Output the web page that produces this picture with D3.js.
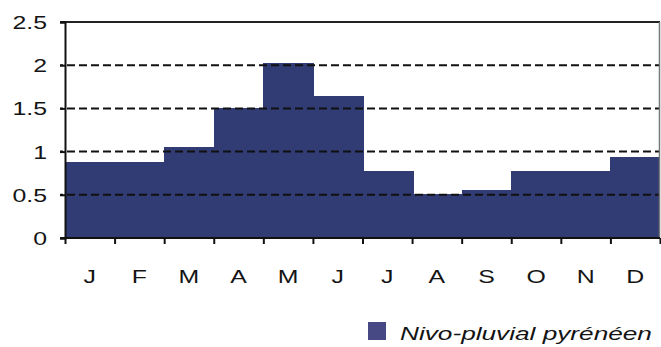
<!DOCTYPE html>
<html>
<head>
<meta charset="utf-8">
<script src="https://cdn.jsdelivr.net/npm/d3@7"></script>
<style>
  html, body { margin: 0; padding: 0; background: #fff; }
  svg { display: block; }
  text { font-family: "Liberation Sans", Arial, sans-serif; fill: #141414; }
</style>
</head>
<body>
<svg id="chart" width="661" height="347"></svg>
<script>
// Monthly flow coefficients, nivo-pluvial Pyrenean regime
const months = ["J", "F", "M", "A", "M", "J", "J", "A", "S", "O", "N", "D"];
const coefficients = [0.88, 0.88, 1.05, 1.5, 2.03, 1.64, 0.78, 0.51, 0.55, 0.78, 0.78, 0.94];
const yTicks = [0, 0.5, 1, 1.5, 2, 2.5];
const gridValues = [0.5, 1, 1.5, 2];
const seriesName = "Nivo-pluvial pyrénéen";

const W = 661, H = 347;
const margin = { left: 65, right: 1, top: 22, bottom: 109 };
const x0 = margin.left, x1 = W - margin.right;
const y0 = H - margin.bottom, y1 = margin.top;
const textStretch = 1.38;

const svg = d3.select("#chart");

const x = d3.scaleBand().domain(d3.range(months.length)).range([x0, x1]).padding(0);
const y = d3.scaleLinear().domain([0, 2.5]).range([y0, y1]);

// bars, drawn edge to edge with a small overlap so no seams show
svg.append("g").selectAll("rect")
  .data(coefficients)
  .join("rect")
  .attr("x", (d, i) => x(i))
  .attr("width", (d, i) => x.bandwidth() + (i < months.length - 1 ? 1.5 : 0))
  .attr("y", d => y(d))
  .attr("height", d => y(0) - y(d))
  .attr("shape-rendering", "crispEdges")
  .attr("fill", "#313b74");

// dashed gridlines on top of the bars
svg.append("g").selectAll("line")
  .data(gridValues)
  .join("line")
  .attr("x1", x0 - 5).attr("x2", x1)
  .attr("y1", d => y(d)).attr("y2", d => y(d))
  .attr("stroke", "#111")
  .attr("stroke-width", 2)
  .attr("stroke-dasharray", "8,4")
  .attr("stroke-dashoffset", -7);

// frame: top and right edges
svg.append("line")
  .attr("x1", x0 - 5).attr("x2", x1)
  .attr("y1", y(2.5)).attr("y2", y(2.5))
  .attr("stroke", "#222").attr("stroke-width", 2);
svg.append("line")
  .attr("x1", x1 - 0.5).attr("x2", x1 - 0.5)
  .attr("y1", y(2.5)).attr("y2", y(0))
  .attr("stroke", "#777").attr("stroke-width", 1.5);

// y axis
const yAxis = svg.append("g")
  .attr("transform", `translate(${x0},0)`)
  .call(d3.axisLeft(y).tickValues(yTicks).tickSize(5).tickFormat(d3.format("")));
yAxis.select(".domain").attr("stroke", "#111").attr("stroke-width", 2);
yAxis.selectAll(".tick line").attr("stroke", "#111").attr("stroke-width", 2);
yAxis.selectAll(".tick text").remove();
yAxis.selectAll(".tick").append("text")
  .attr("transform", `translate(-18,6.5) scale(${textStretch},1)`)
  .attr("text-anchor", "end")
  .style("font-size", "18px")
  .text(d => d3.format("")(d));

// x axis: ticks at band edges, labels centred in each band
const xAxisScale = d3.scaleLinear().domain([0, months.length]).range([x0, x1]);
const xAxis = svg.append("g")
  .attr("transform", `translate(0,${y0})`)
  .call(d3.axisBottom(xAxisScale).tickValues(d3.range(months.length + 1)).tickSize(6).tickFormat(""));
xAxis.select(".domain").attr("stroke", "#111").attr("stroke-width", 2)
  .attr("d", `M${x0 - 5},0H${x1}`);
xAxis.selectAll(".tick line").attr("stroke", "#111").attr("stroke-width", 2);

svg.append("g").selectAll("text")
  .data(months)
  .join("text")
  .attr("transform", (d, i) => `translate(${x(i) + x.bandwidth() / 2},${y0 + 45}) scale(${textStretch},1)`)
  .attr("text-anchor", "middle")
  .style("font-size", "18px")
  .text(d => d);

// legend
const legend = svg.append("g").attr("transform", "translate(368,322)");
legend.append("rect")
  .attr("width", 18).attr("height", 18)
  .attr("fill", "#474985");
legend.append("text")
  .attr("transform", `translate(32,18) scale(${textStretch},1)`)
  .style("font-size", "19px")
  .style("font-style", "italic")
  .text(seriesName);
</script>
</body>
</html>
